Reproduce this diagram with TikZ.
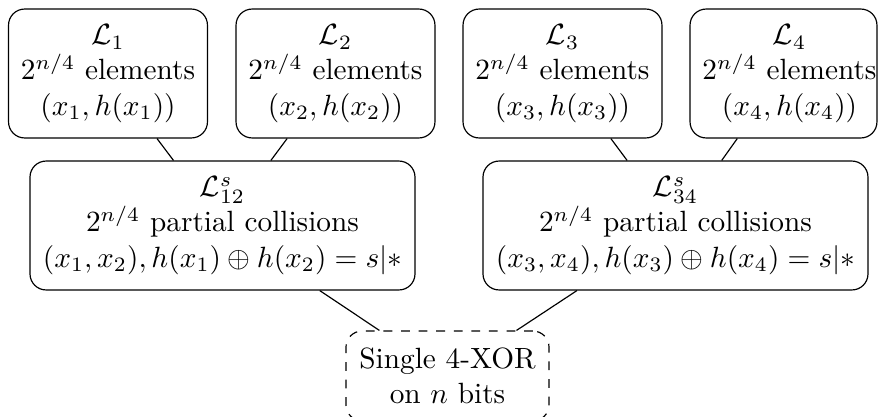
\documentclass[tikz,border=0pt]{standalone}
\usepackage{amsmath,amssymb}
\begin{document}
\begin{tikzpicture}[x=0.3413pt,y=-0.3413pt,
  box/.style={draw, rounded corners=5.5pt, align=center, inner sep=0pt, line width=0.4pt},
  topbox/.style={box, minimum width=67.9pt, minimum height=44pt},
  narrowbox/.style={box, minimum width=63.8pt, minimum height=44pt},
  midbox/.style={box, minimum width=131.4pt, minimum height=44pt},
  endbox/.style={box, dashed, minimum width=69.3pt, minimum height=30.7pt},
  link/.style={line width=0.4pt}]
\clip (0,0) rectangle (878,416);
\node[topbox] (L1) at (108,73.5) {$\mathcal{L}_1$\\$2^{n/4}$ elements\\$(x_1,h(x_1))$};
\node[topbox] (L2) at (335.5,73.5) {$\mathcal{L}_2$\\$2^{n/4}$ elements\\$(x_2,h(x_2))$};
\node[topbox] (L3) at (562.5,73.5) {$\mathcal{L}_3$\\$2^{n/4}$ elements\\$(x_3,h(x_3))$};
\node[narrowbox] (L4) at (783.5,73.5) {\hspace*{4.1pt}$\mathcal{L}_4$\\\hspace*{4.1pt}$2^{n/4}$ elements\\\hspace*{4.1pt}$(x_4,h(x_4))$};
\node[midbox] (L12) at (222.5,225.5) {$\mathcal{L}^s_{12}$\\$2^{n/4}$ partial collisions\\$(x_1,x_2),h(x_1)\oplus h(x_2)=s|*$};
\node[midbox] (L34) at (675.5,225.5) {$\mathcal{L}^s_{34}$\\$2^{n/4}$ partial collisions\\$(x_3,x_4),h(x_3)\oplus h(x_4)=s|*$};
\node[endbox] (F) at (447.5,376) {Single 4-XOR\\on $n$ bits};
\draw[link] (L1) -- (L12);
\draw[link] (L2) -- (L12);
\draw[link] (L3) -- (L34);
\draw[link] (L4) -- (L34);
\draw[link] (L12) -- (F);
\draw[link] (L34) -- (F);
\end{tikzpicture}
\end{document}
